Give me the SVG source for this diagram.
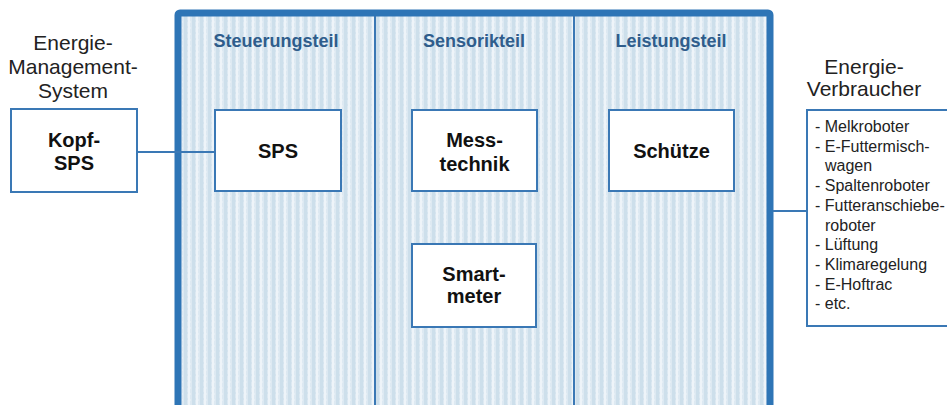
<svg xmlns="http://www.w3.org/2000/svg" width="947" height="405" viewBox="0 0 947 405">
  <defs>
    <pattern id="stripes" x="0" y="0" width="8" height="6" patternUnits="userSpaceOnUse">
      <rect x="0" y="0" width="8" height="6" fill="#dde9f2"/>
      <rect x="0" y="0" width="3" height="6" fill="#cddfeb"/>
      <rect x="4" y="0" width="2" height="6" fill="#eef4f9"/>
      <rect x="3" y="2" width="1" height="2" fill="#d5e4ef"/>
      <rect x="6" y="3" width="1" height="2" fill="#e5eef5"/>
    </pattern>
    <style>
      .box { fill: #ffffff; stroke: #3a78b5; stroke-width: 2; }
      .lbl { font-family: "Liberation Sans", Arial, sans-serif; font-size: 21px; fill: #222222; text-anchor: middle; }
      .bold { font-family: "Liberation Sans", Arial, sans-serif; font-size: 20px; font-weight: bold; fill: #111111; text-anchor: middle; }
      .title { font-family: "Liberation Sans", Arial, sans-serif; font-size: 18px; font-weight: bold; fill: #2f5d8c; text-anchor: middle; }
      .list { font-family: "Liberation Sans", Arial, sans-serif; font-size: 16px; fill: #222222; }
      .conn { stroke: #3a78b5; stroke-width: 2; fill: none; }
      .div { stroke: #3a78b5; stroke-width: 2; }
    </style>
  </defs>

  <rect width="947" height="405" fill="#ffffff"/>

  <g id="frame">
    <rect x="178" y="13" width="592" height="410" rx="2" fill="url(#stripes)" stroke="#2e75b6" stroke-width="7"/>
    <line class="div" x1="375" y1="16" x2="375" y2="405"/>
    <line class="div" x1="574" y1="16" x2="574" y2="405"/>
    <text class="title" x="276" y="47">Steuerungsteil</text>
    <text class="title" x="474" y="47">Sensorikteil</text>
    <text class="title" x="671" y="47">Leistungsteil</text>
  </g>

  <g id="connectors">
    <line class="conn" x1="137" y1="152" x2="215" y2="152"/>
    <line class="conn" x1="773" y1="211" x2="807" y2="211"/>
  </g>

  <g id="ems-label">
    <text class="lbl" x="73" y="50">Energie-</text>
    <text class="lbl" x="73" y="74">Management-</text>
    <text class="lbl" x="73" y="98">System</text>
  </g>

  <g id="kopf-sps">
    <rect class="box" x="11" y="109" width="126" height="83"/>
    <text class="bold" x="74" y="147">Kopf-</text>
    <text class="bold" x="74" y="170">SPS</text>
  </g>

  <g id="sps">
    <rect class="box" x="215" y="110" width="126" height="81"/>
    <text class="bold" x="278" y="158">SPS</text>
  </g>

  <g id="messtechnik">
    <rect class="box" x="412" y="110" width="125" height="81"/>
    <text class="bold" x="474.5" y="147">Mess-</text>
    <text class="bold" x="474.5" y="171">technik</text>
  </g>

  <g id="smartmeter">
    <rect class="box" x="412" y="244" width="124" height="83"/>
    <text class="bold" x="474" y="281">Smart-</text>
    <text class="bold" x="474" y="303">meter</text>
  </g>

  <g id="schuetze">
    <rect class="box" x="609" y="110" width="125" height="81"/>
    <text class="bold" x="671.5" y="158">Schütze</text>
  </g>

  <g id="verbraucher-label">
    <text class="lbl" x="864" y="74">Energie-</text>
    <text class="lbl" x="864" y="96">Verbraucher</text>
  </g>

  <g id="verbraucher">
    <rect class="box" x="807" y="110" width="160" height="216"/>
    <text class="list" x="815" y="132">- Melkroboter</text>
    <text class="list" x="815" y="151.7">- E-Futtermisch-</text>
    <text class="list" x="825" y="171.4">wagen</text>
    <text class="list" x="815" y="191.1">- Spaltenroboter</text>
    <text class="list" x="815" y="210.8">- Futteranschiebe-</text>
    <text class="list" x="825" y="230.5">roboter</text>
    <text class="list" x="815" y="250.2">- Lüftung</text>
    <text class="list" x="815" y="269.9">- Klimaregelung</text>
    <text class="list" x="815" y="289.6">- E-Hoftrac</text>
    <text class="list" x="815" y="309.3">- etc.</text>
  </g>
</svg>
